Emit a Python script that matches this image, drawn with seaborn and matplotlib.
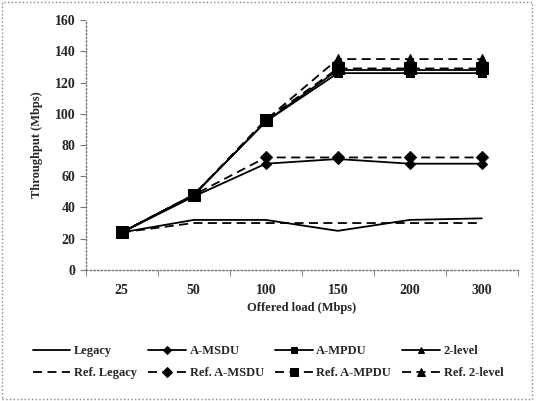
import pandas as pd
import seaborn as sns
import matplotlib.pyplot as plt
from matplotlib.patches import Rectangle

sns.set_style('white')
plt.rcParams['font.family'] = ['Liberation Serif', 'DejaVu Serif']
plt.rcParams['font.weight'] = 'bold'

loads = ['25', '50', '100', '150', '200', '300']

legacy = [24, 32, 32, 25, 32, 33]
a_msdu = [24, 47, 68, 71, 68, 68]
a_mpdu = [24, 48, 95, 126, 126, 126]
two_level = [24, 48, 95, 128, 128, 128]
ref_legacy = [24, 30, 30, 30, 30, 30]
ref_a_msdu = [24, 48, 72, 72, 72, 72]
ref_a_mpdu = [24, 48, 96, 129, 129, 129]
ref_two_level = [24, 48, 96, 135, 135, 135]

series = [
    ('Legacy', legacy, None, '-', 6),
    ('Ref. Legacy', ref_legacy, None, '--', 6),
    ('A-MSDU', a_msdu, 'D', '-', 5),
    ('Ref. A-MSDU', ref_a_msdu, 'D', '--', 6),
    ('A-MPDU', a_mpdu, 's', '-', 6),
    ('Ref. A-MPDU', ref_a_mpdu, 's', '--', 8),
    ('2-level', two_level, '^', '-', 6),
    ('Ref. 2-level', ref_two_level, '^', '--', 7),
]

fig = plt.figure(figsize=(5.36, 4.01), dpi=100)
ax = fig.add_axes([0.160, 0.327, 0.806, 0.623])

for name, vals, mk, ls, ms in series:
    df = pd.DataFrame({'load': loads, 'tp': vals})
    sns.lineplot(data=df, x='load', y='tp', ax=ax, color='black',
                 marker=mk, markersize=ms, linewidth=1.3, label=name,
                 markeredgecolor='black')
    line = ax.get_lines()[-1]
    if ls == '--':
        line.set_dashes((5, 3))

ax.set_xlim(-0.5, 5.5)
ax.set_ylim(0, 160)
ax.set_yticks(range(0, 161, 20))
ax.set_xticks(range(6))
ax.set_xticklabels(loads)
ax.set_xticks([i + 0.5 for i in range(-1, 6)], minor=True)
ax.tick_params(axis='x', which='major', length=0, pad=10, labelsize=10)
ax.tick_params(axis='x', which='minor', length=4, direction='out', color='#777777', bottom=True)
ax.tick_params(axis='y', length=4, direction='out', color='#777777', left=True, labelsize=10)
for lbl in ax.get_xticklabels() + ax.get_yticklabels():
    lbl.set_fontweight('bold')

ax.set_xlabel('Offered load (Mbps)', fontsize=9, fontweight='bold', labelpad=4)
ax.set_ylabel('Throughput (Mbps)', fontsize=9, fontweight='bold', labelpad=8)

for side in ['top', 'right']:
    ax.spines[side].set_visible(False)
for side in ['left', 'bottom']:
    ax.spines[side].set_color('#777777')
    ax.spines[side].set_linestyle(':')
    ax.spines[side].set_linewidth(1.0)

handles, labels = ax.get_legend_handles_labels()
ax.get_legend().remove()
fig.legend(handles, labels, loc='center', bbox_to_anchor=(0.5, 0.097), ncol=4,
           frameon=False, handlelength=3.0, columnspacing=0.9, markerscale=0.8,
           handletextpad=0.3, labelspacing=0.8, prop={'weight': 'bold', 'size': 9})

fig.patches.append(Rectangle((0.004, 0.005), 0.988, 0.99, transform=fig.transFigure,
                             fill=False, edgecolor='#888888', linestyle=':', linewidth=1.0))

fig.savefig('out.png', dpi=100)
